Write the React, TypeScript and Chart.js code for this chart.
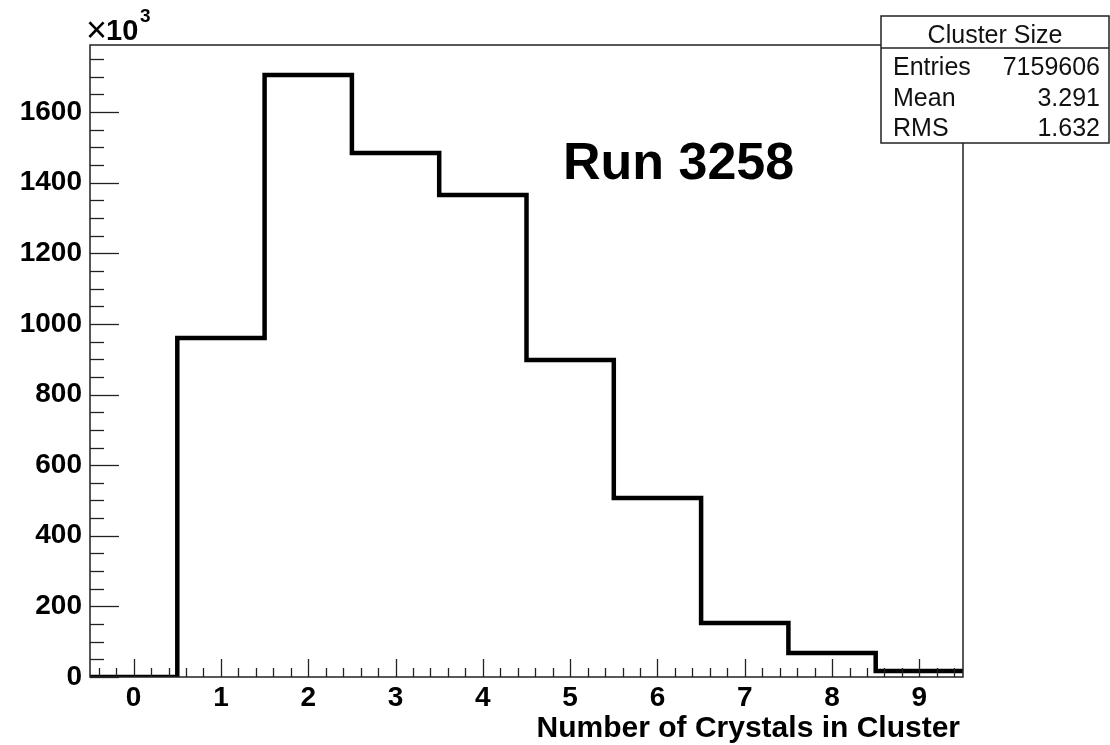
import React, { useEffect, useRef } from "react";
import { Chart, registerables } from "chart.js";

Chart.register(...registerables);

// ---- data (counts in units of 10^3) ----
const binCenters = [0, 1, 2, 3, 4, 5, 6, 7, 8, 9];
const counts = [0, 960, 1705, 1484, 1365, 898, 507, 153, 68, 17];
const xTickValues = [0, 1, 2, 3, 4, 5, 6, 7, 8, 9];
const yTickValues = [0, 200, 400, 600, 800, 1000, 1200, 1400, 1600];
const statLabels = ["Entries", "Mean", "RMS"];
const statValues = ["7159606", "3.291", "1.632"];
const statTitle = "Cluster Size";
const runLabel = "Run 3258";
const xTitle = "Number of Crystals in Cluster";

const X_MIN = -0.5;
const X_MAX = 9.5;
const Y_MIN = 0;
const Y_MAX = 1790;
const FONT = '"Liberation Sans", Arial, Helvetica, sans-serif';

const rootPlugin = {
  id: "rootStyle",
  afterDraw(chart: any) {
    const ctx = chart.ctx as CanvasRenderingContext2D;
    const { left, right, top, bottom } = chart.chartArea;
    const xs = chart.scales.x;
    const ys = chart.scales.y;
    ctx.save();
    // frame
    ctx.strokeStyle = "#222";
    ctx.lineWidth = 1.5;
    ctx.strokeRect(left, top, right - left, bottom - top);

    // y ticks (inside)
    ctx.lineWidth = 1.3;
    for (let v = 0; v <= Y_MAX + 1e-6; v += 50) {
      const py = Math.round(ys.getPixelForValue(v)) + 0.5;
      const major = v % 200 === 0;
      const len = major ? 29 : 14;
      ctx.beginPath();
      ctx.moveTo(left, py);
      ctx.lineTo(left + len, py);
      ctx.stroke();
    }
    // x ticks (inside)
    for (let i = -2; i <= 47; i++) {
      const v = i * 0.2;
      if (v < X_MIN || v > X_MAX) continue;
      const px = Math.round(xs.getPixelForValue(v)) + 0.5;
      const major = i % 5 === 0;
      const len = major ? 18 : 9;
      ctx.beginPath();
      ctx.moveTo(px, bottom);
      ctx.lineTo(px, bottom - len);
      ctx.stroke();
    }

    // x10^3
    ctx.fillStyle = "#000";
    ctx.textAlign = "left";
    ctx.textBaseline = "alphabetic";
    ctx.font = `36px ${FONT}`;
    ctx.fillText("\u00d7", 86, 42);
    ctx.font = `bold 29px ${FONT}`;
    ctx.fillText("10", 106, 40);
    ctx.font = `bold 19px ${FONT}`;
    ctx.fillText("3", 140, 22);

    // Run label
    ctx.font = `bold 52px ${FONT}`;
    ctx.fillText(runLabel, 563, 179);

    // x title
    ctx.font = `bold 30px ${FONT}`;
    ctx.textAlign = "right";
    ctx.fillText(xTitle, 960, 737);

    // stats box
    const bx = 881, by = 16, bw = 228, bh = 127;
    ctx.fillStyle = "#fff";
    ctx.fillRect(bx, by, bw, bh);
    ctx.strokeStyle = "#222";
    ctx.lineWidth = 1.5;
    ctx.strokeRect(bx, by, bw, bh);
    ctx.beginPath();
    ctx.moveTo(bx, 48);
    ctx.lineTo(bx + bw, 48);
    ctx.stroke();
    ctx.fillStyle = "#111";
    ctx.font = `25px ${FONT}`;
    ctx.textAlign = "center";
    ctx.fillText(statTitle, bx + bw / 2, 43);
    const baselines = [75, 106, 136];
    statLabels.forEach((lab, i) => {
      ctx.textAlign = "left";
      ctx.fillText(lab, 893, baselines[i]);
      ctx.textAlign = "right";
      ctx.fillText(statValues[i], 1100, baselines[i]);
    });
    ctx.restore();
  },
};

export default function App() {
  const ref = useRef<HTMLCanvasElement | null>(null);
  useEffect(() => {
    if (!ref.current) return;
    const points = counts.map((v, i) => ({ x: binCenters[i] - 0.5, y: v }));
    points.push({ x: binCenters[binCenters.length - 1] + 0.5, y: counts[counts.length - 1] });
    const chart = new Chart(ref.current, {
      type: "line",
      data: {
        datasets: [
          {
            data: points,
            stepped: "before",
            borderColor: "#000",
            borderWidth: 4.5,
            pointRadius: 0,
            fill: false,
            borderJoinStyle: "miter",
          } as any,
        ],
      },
      options: {
        responsive: false,
        animation: false,
        devicePixelRatio: 1,
        layout: { padding: { top: 45, right: 147, left: 0, bottom: 0 } },
        plugins: { legend: { display: false }, tooltip: { enabled: false } },
        scales: {
          x: {
            type: "linear",
            min: X_MIN,
            max: X_MAX,
            grid: { display: false, drawTicks: false },
            border: { display: false },
            afterBuildTicks: (s: any) => {
              s.ticks = xTickValues.map((v) => ({ value: v }));
            },
            afterFit: (s: any) => {
              s.height = 68;
            },
            ticks: {
              color: "#000",
              padding: 4,
              maxRotation: 0,
              autoSkip: false,
              callback: (v: any) => String(v),
              font: { family: FONT, size: 28, weight: "bold" },
            },
          },
          y: {
            type: "linear",
            min: Y_MIN,
            max: Y_MAX,
            grid: { display: false, drawTicks: false },
            border: { display: false },
            afterBuildTicks: (s: any) => {
              s.ticks = yTickValues.map((v) => ({ value: v }));
            },
            afterFit: (s: any) => {
              s.width = 90;
            },
            ticks: {
              color: "#000",
              padding: 8,
              autoSkip: false,
              callback: (v: any) => String(v),
              font: { family: FONT, size: 28, weight: "bold" },
            },
          },
        },
      },
      plugins: [rootPlugin],
    } as any);
    return () => chart.destroy();
  }, []);
  return (
    <div style={{ position: "fixed", left: 0, top: 0, width: 1110, height: 745, background: "#fff" }}>
      <canvas ref={ref} width={1110} height={745} style={{ display: "block", width: 1110, height: 745 }} />
    </div>
  );
}
